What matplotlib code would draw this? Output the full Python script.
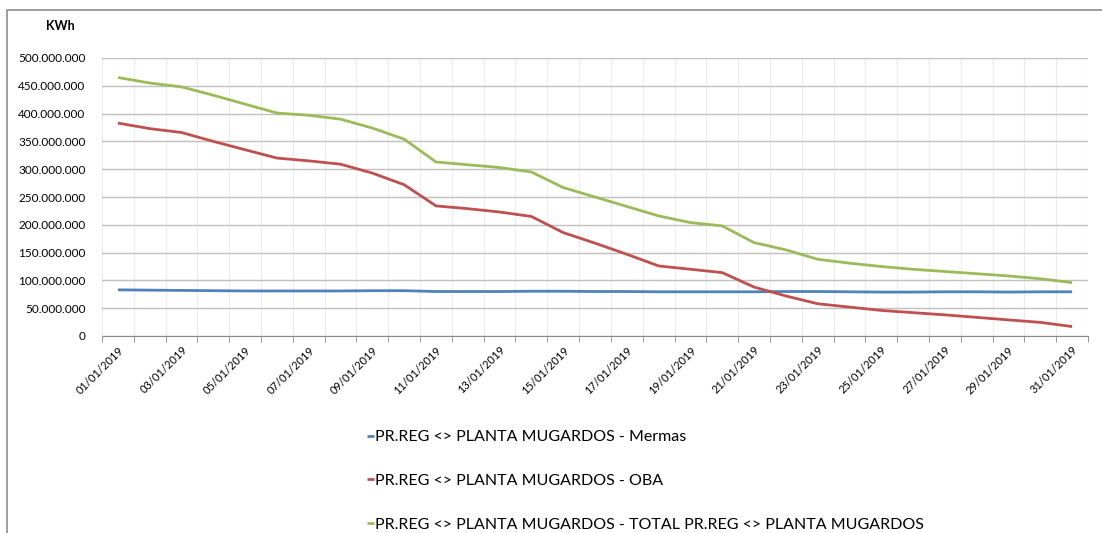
import matplotlib.pyplot as plt
from matplotlib.patches import Rectangle
from matplotlib.ticker import FuncFormatter, FixedLocator

plt.rcParams['font.family'] = ['Lato', 'DejaVu Sans']

# ---------------------------------------------------------------------------
# DATOS (KWh)
# ---------------------------------------------------------------------------
dias = ["%02d/01/2019" % d for d in range(1, 32)]

mermas = [83e6, 82.5e6, 82e6, 81.5e6, 81e6, 81e6, 81e6, 81e6, 81.5e6, 81.5e6,
          80e6, 80e6, 80e6, 80.5e6, 80.5e6, 80e6, 80e6, 79.5e6, 79.5e6, 79.5e6,
          79.5e6, 80e6, 80e6, 79.5e6, 79e6, 79e6, 79.5e6, 79.5e6, 79e6, 79.5e6, 79.5e6]

oba = [383e6, 373e6, 366e6, 350e6, 335e6, 320e6, 315e6, 309e6, 293e6, 272e6,
       234e6, 229e6, 223e6, 215e6, 186e6, 167e6, 147e6, 126e6, 120e6, 114e6,
       88e6, 72e6, 58e6, 52e6, 46e6, 42e6, 38e6, 33.5e6, 29e6, 24.5e6, 17e6]

total = [465e6, 455e6, 448e6, 433e6, 417e6, 401e6, 397e6, 390e6, 374e6, 354e6,
         313e6, 308e6, 303e6, 295e6, 267e6, 250e6, 233e6, 216e6, 204e6, 198e6,
         168e6, 155e6, 138e6, 131e6, 125e6, 120e6, 116e6, 112e6, 108e6, 103e6, 96e6]

series = [
    ("PR.REG <> PLANTA MUGARDOS - Mermas", mermas, "#4F81BD"),
    ("PR.REG <> PLANTA MUGARDOS - OBA", oba, "#C0504D"),
    ("PR.REG <> PLANTA MUGARDOS - TOTAL PR.REG <> PLANTA MUGARDOS", total, "#9BBB59"),
]

# ---------------------------------------------------------------------------
# FIGURA
# ---------------------------------------------------------------------------
fig = plt.figure(figsize=(11.02, 5.33), dpi=100)
ax = fig.add_axes([102 / 1102, 1 - 336 / 533, 986 / 1102, 278 / 533])

# marco exterior del grafico (solo lado izquierdo y superior visibles)
fig.patches.append(Rectangle((7 / 1102, -0.1), 1.2, 1 - 10 / 533 + 0.1,
                             transform=fig.transFigure, fill=False,
                             edgecolor="#8c8c8c", linewidth=1.2))

x = list(range(len(dias)))
for nombre, valores, color in series:
    ax.plot(x, valores, color=color, linewidth=2, label=nombre,
            solid_capstyle="butt")

ax.set_xlim(-0.5, len(dias) - 0.5)
ax.set_ylim(0, 500e6)
ax.set_yticks(range(0, 500000001, 50000000))
ax.yaxis.set_major_formatter(FuncFormatter(lambda v, p: "{:,.0f}".format(v).replace(",", ".")))

ax.xaxis.set_major_locator(FixedLocator(x[::2]))
ax.set_xticklabels(dias[::2], rotation=45, ha="right", rotation_mode="anchor",
                   fontsize=8)
ax.xaxis.set_minor_locator(FixedLocator([i - 0.5 for i in range(len(dias) + 1)]))
ax.tick_params(axis="x", which="major", length=0, pad=6)
ax.tick_params(axis="x", which="minor", length=4, color="#888888")
ax.tick_params(axis="y", length=0, labelsize=8.5, pad=12)

ax.grid(axis="y", color="#c0c0c0", linewidth=1)
ax.grid(axis="x", which="minor", color="#ececec", linewidth=0.8)
ax.set_axisbelow(True)

for lado in ["left", "right", "top"]:
    ax.spines[lado].set_visible(False)
ax.spines["bottom"].set_color("#888888")

fig.text(60 / 1102, 1 - 26 / 533, "KWh", fontsize=9, fontweight="bold",
         ha="center", va="center")

fig.legend(loc="upper left", bbox_to_anchor=(367 / 1102, 1 - 430 / 533),
           frameon=False, fontsize=11.5, handlelength=0.45, handletextpad=0.05,
           labelspacing=1.85, borderpad=0, borderaxespad=0)

fig.savefig("out.png", dpi=100)
